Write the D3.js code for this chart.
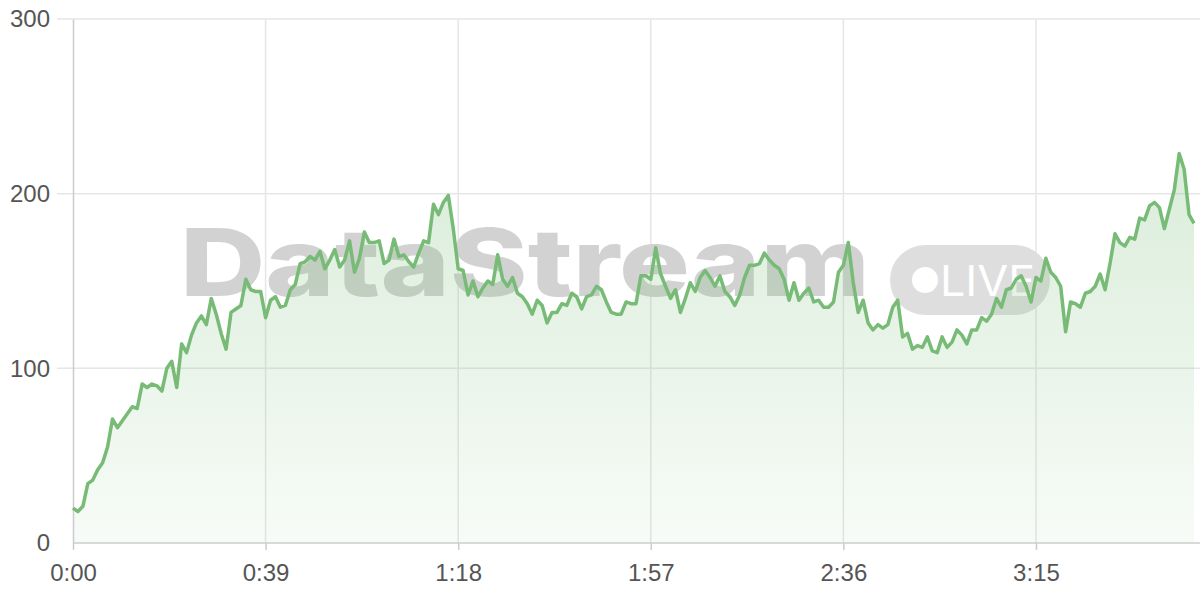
<!DOCTYPE html>
<html><head><meta charset="utf-8">
<script src="https://cdn.jsdelivr.net/npm/d3@7/dist/d3.min.js"></script>
<style>body{margin:0;background:#fff}svg{display:block}</style>
</head><body>
<svg id="chart" width="1200" height="600"></svg>
<script>
// data: one value per second, 0:00 .. 3:47
const values = [
20,18,21,34,36,42,46,55,71,66,70,74,78,77,91,89,91,90,87,100,
104,89,114,109,119,126,130,125,140,131,120,111,132,134,136,151,145,144,144,129,
139,141,135,136,145,148,160,161,164,162,167,157,162,168,158,162,173,155,163,178,
172,172,173,160,162,174,164,165,161,158,166,173,172,194,188,195,199,180,157,156,
142,150,141,146,150,148,165,151,147,152,143,141,137,131,139,136,126,132,132,137,
136,143,141,134,141,142,147,145,138,132,131,131,138,137,137,153,153,151,169,154,
147,140,145,132,140,149,144,152,156,152,147,153,144,141,136,142,152,159,159,160,
166,162,159,157,151,139,149,139,143,146,138,139,135,135,138,155,159,172,149,132,
139,126,122,125,123,125,135,139,118,120,111,113,112,118,110,109,118,112,115,122,
119,114,122,122,129,127,131,140,135,145,146,151,153,147,138,152,150,163,155,152,
147,121,138,137,135,143,144,147,154,145,160,177,172,170,175,174,186,185,193,195,
192,180,191,202,223,214,188,183
];
const seconds = values.map((v, i) => i);
const xTickValues = [0, 39, 78, 117, 156, 195];
const yTickValues = [0, 100, 200, 300];
const watermarkText = "DataStream";
const badgeText = "LIVE";

const svg = d3.select("#chart");
const mLeft = 73, mRight = 1194, mTop = 19, mBottom = 543;
const x = d3.scaleLinear().domain([0, d3.max(seconds)]).range([mLeft, mRight]);
const y = d3.scaleLinear().domain([0, 300]).range([mBottom, mTop]);
const fmt = s => Math.floor(s / 60) + ":" + String(s % 60).padStart(2, "0");
const font = "'Liberation Sans', Arial, sans-serif";
const wmFont = "Inter, 'Liberation Sans', sans-serif";

const defs = svg.append("defs");
const grad = defs.append("linearGradient").attr("id", "fill")
  .attr("gradientUnits", "userSpaceOnUse").attr("x1", 0).attr("x2", 0)
  .attr("y1", y(220)).attr("y2", y(0));
grad.append("stop").attr("offset", "0%").attr("stop-color", "#7cbf7c").attr("stop-opacity", 0.28);
grad.append("stop").attr("offset", "100%").attr("stop-color", "#7cbf7c").attr("stop-opacity", 0.06);

// horizontal grid
svg.append("g").selectAll("line").data(yTickValues.filter(d => d > 0)).join("line")
  .attr("x1", 57).attr("x2", 1200).attr("y1", d => y(d)).attr("y2", d => y(d))
  .attr("stroke", "#e6e6e6").attr("stroke-width", 1.5);
// vertical grid
svg.append("g").selectAll("line").data(xTickValues.filter(d => d > 0)).join("line")
  .attr("x1", d => x(d)).attr("x2", d => x(d)).attr("y1", mTop).attr("y2", mBottom)
  .attr("stroke", "#e6e6e6").attr("stroke-width", 1.5);

// watermark
const wm = svg.append("g");
wm.append("text").attr("x", 180).attr("y", 296).text(watermarkText)
  .attr("font-family", wmFont).attr("font-weight", 800).attr("font-size", 94)
  .attr("textLength", 690).attr("lengthAdjust", "spacingAndGlyphs")
  .attr("fill", "#d2d2d2");
wm.append("rect").attr("x", 890).attr("y", 245).attr("width", 160).attr("height", 70)
  .attr("rx", 35).attr("fill", "#dedede");
wm.append("circle").attr("cx", 925).attr("cy", 280).attr("r", 13).attr("fill", "#fff");
wm.append("text").attr("x", 940).attr("y", 296).text(badgeText)
  .attr("font-family", wmFont).attr("font-size", 42).attr("textLength", 95)
  .attr("lengthAdjust", "spacingAndGlyphs").attr("fill", "#fff");

// area + line
const area = d3.area().x((d, i) => x(seconds[i])).y0(y(0)).y1(d => y(d));
const line = d3.line().x((d, i) => x(seconds[i])).y(d => y(d));
svg.append("path").datum(values).attr("d", area).attr("fill", "url(#fill)");

// axes
const xAxis = svg.append("g").attr("transform", `translate(0,${mBottom})`)
  .call(d3.axisBottom(x).tickValues(xTickValues).tickFormat(fmt).tickSize(7).tickPadding(14));
xAxis.select(".domain").attr("stroke", "#cccccc").attr("stroke-width", 1.5).attr("d", `M${mLeft},0H1200`);
xAxis.selectAll(".tick line").attr("stroke", "#cccccc").attr("stroke-width", 1.5);
xAxis.selectAll("text").attr("fill", "#555").attr("font-size", 24).attr("font-family", font);

const yAxis = svg.append("g").attr("transform", `translate(${mLeft},0)`)
  .call(d3.axisLeft(y).tickValues(yTickValues).tickSize(0).tickPadding(23));
yAxis.select(".domain").attr("stroke", "#cccccc").attr("stroke-width", 1.5);
yAxis.selectAll("text").attr("fill", "#555").attr("font-size", 24).attr("font-family", font);

svg.append("path").datum(values).attr("d", line).attr("fill", "none")
  .attr("stroke", "#77bb77").attr("stroke-width", 3.5).attr("stroke-linejoin", "round");
</script>
</body></html>
